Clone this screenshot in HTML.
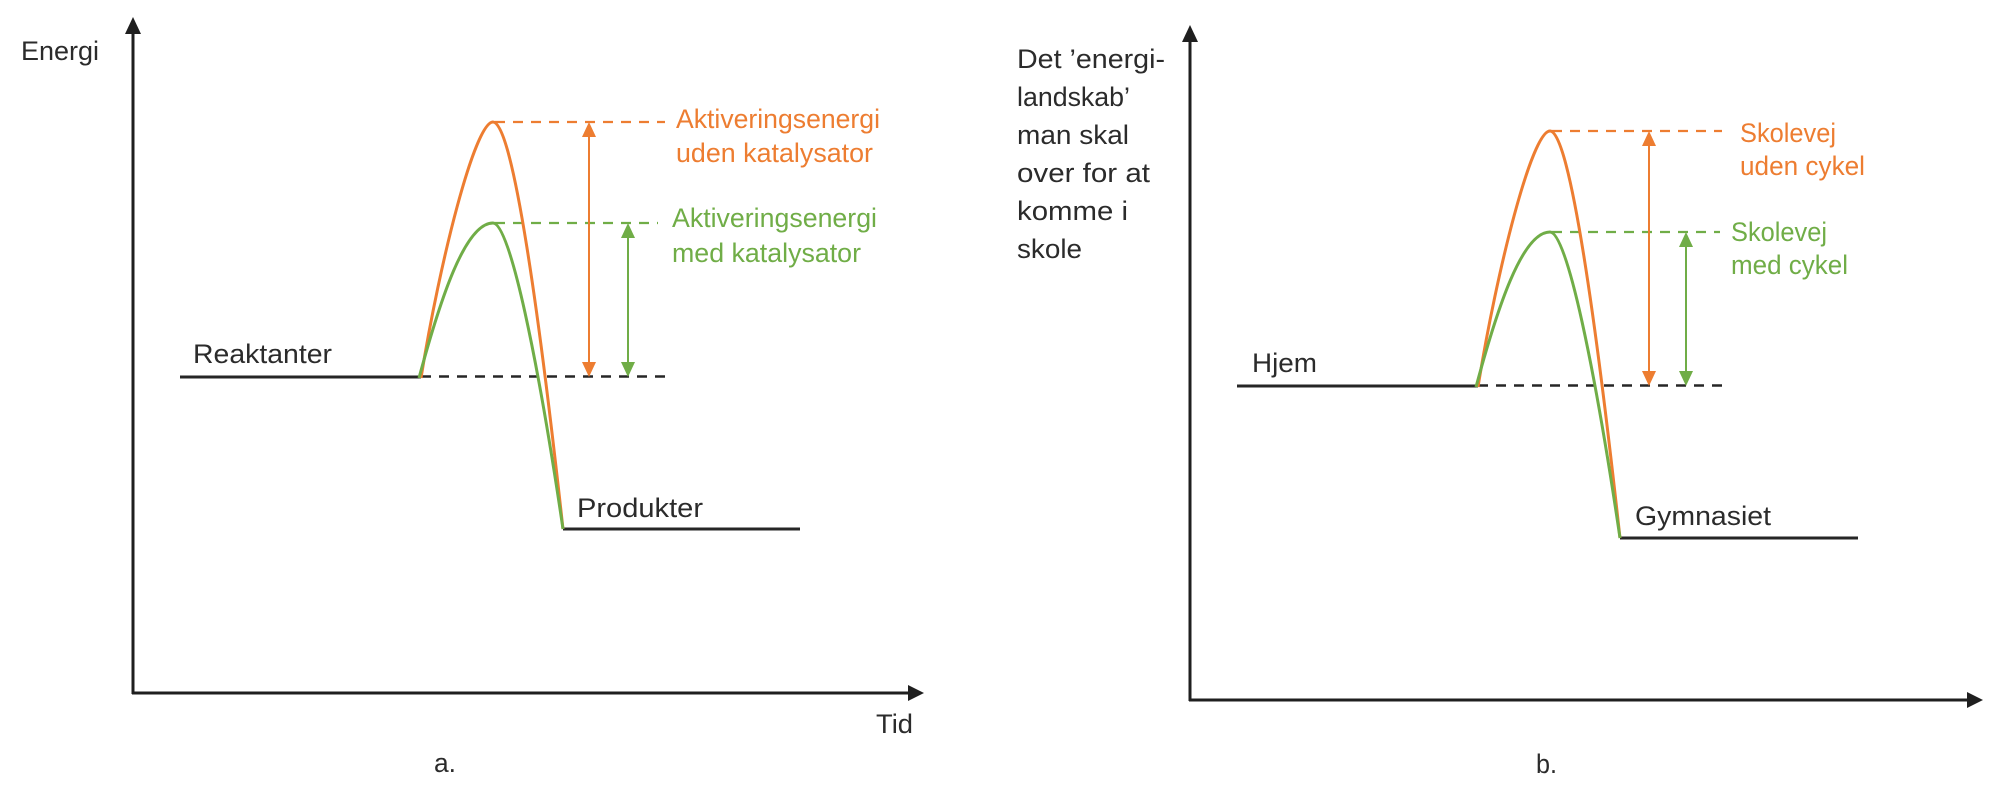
<!DOCTYPE html>
<html>
<head>
<meta charset="utf-8">
<style>
  html, body { margin:0; padding:0; background:#ffffff; }
  body { width:2000px; height:801px; overflow:hidden; }
  svg { display:block; }
  text { font-family: "Liberation Sans", "DejaVu Sans", sans-serif; font-size:27px; }
  .dk { fill:#2b2b2b; }
  .or { fill:#ED7D31; }
  .gr { fill:#70AD47; }
</style>
</head>
<body>
<svg width="2000" height="801" viewBox="0 0 2000 801" xmlns="http://www.w3.org/2000/svg">
  <rect x="0" y="0" width="2000" height="801" fill="#ffffff"/>

  <!-- ================= PANEL A ================= -->
  <!-- axes -->
  <line x1="133" y1="694" x2="133" y2="30" stroke="#1f1f1f" stroke-width="3"/>
  <polygon points="133,17 125,34 141,34" fill="#1f1f1f"/>
  <line x1="132" y1="693" x2="911" y2="693" stroke="#1f1f1f" stroke-width="3"/>
  <polygon points="924,693 908,685 908,701" fill="#1f1f1f"/>

  <!-- levels -->
  <line x1="180" y1="377" x2="421" y2="377" stroke="#262626" stroke-width="3"/>
  <line x1="421" y1="376.5" x2="667" y2="376.5" stroke="#262626" stroke-width="2.5" stroke-dasharray="10 8"/>
  <line x1="563" y1="529" x2="800" y2="529" stroke="#262626" stroke-width="3"/>

  <!-- colored dashed -->
  <line x1="495" y1="122" x2="665" y2="122" stroke="#ED7D31" stroke-width="2.2" stroke-dasharray="10 8"/>
  <line x1="495" y1="223" x2="658" y2="223" stroke="#70AD47" stroke-width="2.2" stroke-dasharray="10 8"/>

  <!-- curves -->
  <path d="M421,378 C440,260 475,122 493,122 C513,122 540,320 563,529" fill="none" stroke="#ED7D31" stroke-width="3"/>
  <path d="M419,378 C440,300 465,223 493,223 C510,223 538,360 563,529" fill="none" stroke="#70AD47" stroke-width="3"/>

  <!-- double arrows -->
  <line x1="589" y1="134" x2="589" y2="365" stroke="#ED7D31" stroke-width="2"/>
  <polygon points="589,122 582,137 596,137" fill="#ED7D31"/>
  <polygon points="589,377 582,362 596,362" fill="#ED7D31"/>
  <line x1="628" y1="235" x2="628" y2="365" stroke="#70AD47" stroke-width="2"/>
  <polygon points="628,223 621,238 635,238" fill="#70AD47"/>
  <polygon points="628,377 621,362 635,362" fill="#70AD47"/>

  <!-- texts -->
  <text class="dk" x="21" y="60" textLength="78" lengthAdjust="spacingAndGlyphs">Energi</text>
  <text class="dk" x="193" y="363" textLength="139" lengthAdjust="spacingAndGlyphs">Reaktanter</text>
  <text class="dk" x="577" y="517" textLength="126" lengthAdjust="spacingAndGlyphs">Produkter</text>
  <text class="or" x="676" y="128" textLength="204" lengthAdjust="spacingAndGlyphs">Aktiveringsenergi</text>
  <text class="or" x="676" y="162" textLength="197" lengthAdjust="spacingAndGlyphs">uden katalysator</text>
  <text class="gr" x="672" y="227" textLength="205" lengthAdjust="spacingAndGlyphs">Aktiveringsenergi</text>
  <text class="gr" x="672" y="262" textLength="189" lengthAdjust="spacingAndGlyphs">med katalysator</text>
  <text class="dk" x="876" y="733" textLength="37" lengthAdjust="spacingAndGlyphs">Tid</text>
  <text class="dk" x="434" y="772" textLength="22" lengthAdjust="spacingAndGlyphs">a.</text>

  <!-- ================= PANEL B ================= -->
  <!-- axes -->
  <line x1="1190" y1="701" x2="1190" y2="38" stroke="#1f1f1f" stroke-width="3"/>
  <polygon points="1190,25 1182,42 1198,42" fill="#1f1f1f"/>
  <line x1="1189" y1="700" x2="1969" y2="700" stroke="#1f1f1f" stroke-width="3"/>
  <polygon points="1983,700 1967,692 1967,708" fill="#1f1f1f"/>

  <!-- levels -->
  <line x1="1237" y1="386" x2="1478" y2="386" stroke="#262626" stroke-width="3"/>
  <line x1="1478" y1="385.5" x2="1725" y2="385.5" stroke="#262626" stroke-width="2.5" stroke-dasharray="10 8"/>
  <line x1="1620" y1="538" x2="1858" y2="538" stroke="#262626" stroke-width="3"/>

  <!-- colored dashed -->
  <line x1="1552" y1="131" x2="1722" y2="131" stroke="#ED7D31" stroke-width="2.2" stroke-dasharray="10 8"/>
  <line x1="1552" y1="232" x2="1720" y2="232" stroke="#70AD47" stroke-width="2.2" stroke-dasharray="10 8"/>

  <!-- curves -->
  <path d="M1478,387 C1497,269 1532,131 1550,131 C1570,131 1597,329 1620,538" fill="none" stroke="#ED7D31" stroke-width="3"/>
  <path d="M1476,387 C1497,309 1522,232 1550,232 C1567,232 1595,369 1620,538" fill="none" stroke="#70AD47" stroke-width="3"/>

  <!-- double arrows -->
  <line x1="1649" y1="143" x2="1649" y2="374" stroke="#ED7D31" stroke-width="2"/>
  <polygon points="1649,131 1642,146 1656,146" fill="#ED7D31"/>
  <polygon points="1649,386 1642,371 1656,371" fill="#ED7D31"/>
  <line x1="1686" y1="244" x2="1686" y2="374" stroke="#70AD47" stroke-width="2"/>
  <polygon points="1686,232 1679,247 1693,247" fill="#70AD47"/>
  <polygon points="1686,386 1679,371 1693,371" fill="#70AD47"/>

  <!-- texts -->
  <text class="dk" x="1017" y="68" textLength="148" lengthAdjust="spacingAndGlyphs">Det ’energi-</text>
  <text class="dk" x="1017" y="106" textLength="113" lengthAdjust="spacingAndGlyphs">landskab’</text>
  <text class="dk" x="1017" y="144" textLength="112" lengthAdjust="spacingAndGlyphs">man skal</text>
  <text class="dk" x="1017" y="182" textLength="133" lengthAdjust="spacingAndGlyphs">over for at</text>
  <text class="dk" x="1017" y="220" textLength="111" lengthAdjust="spacingAndGlyphs">komme i</text>
  <text class="dk" x="1017" y="258" textLength="65" lengthAdjust="spacingAndGlyphs">skole</text>

  <text class="dk" x="1252" y="372" textLength="65" lengthAdjust="spacingAndGlyphs">Hjem</text>
  <text class="dk" x="1635" y="525" textLength="136" lengthAdjust="spacingAndGlyphs">Gymnasiet</text>

  <text class="or" x="1740" y="142" textLength="96" lengthAdjust="spacingAndGlyphs">Skolevej</text>
  <text class="or" x="1740" y="175" textLength="125" lengthAdjust="spacingAndGlyphs">uden cykel</text>
  <text class="gr" x="1731" y="241" textLength="96" lengthAdjust="spacingAndGlyphs">Skolevej</text>
  <text class="gr" x="1731" y="274" textLength="117" lengthAdjust="spacingAndGlyphs">med cykel</text>

  <text class="dk" x="1536" y="773" textLength="21" lengthAdjust="spacingAndGlyphs">b.</text>
</svg>
</body>
</html>
